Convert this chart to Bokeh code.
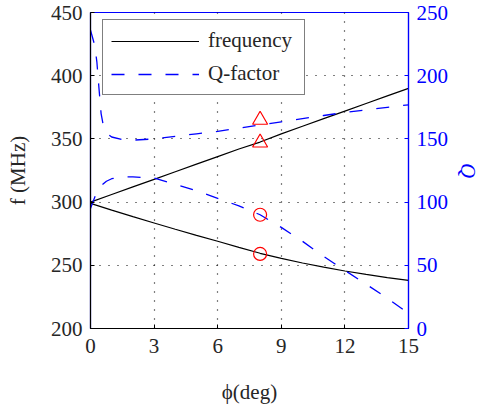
from bokeh.plotting import figure
from bokeh.models import Range1d, LinearAxis, FixedTicker, Legend, LegendItem
from bokeh.embed import file_html
from bokeh.resources import INLINE

# ---- data ----
phi_f = [0, 1, 2, 3, 4, 5, 6, 7, 8, 9, 10, 11, 12, 13, 14, 15]
f_up = [300, 306, 312, 318, 324, 330, 336, 342, 347.5, 354, 360, 366, 372, 378, 384, 390]
f_low = [299, 293.7, 288.5, 283.5, 278.5, 273.7, 269, 264.2, 259.5, 255.5, 251.8, 248.5, 245.5, 242.8, 240.3, 238]

phi_q_up = [0, 0.2, 0.3, 0.4, 0.5, 0.6, 0.8, 1.0, 1.5, 2, 3, 4, 5, 6, 7, 8, 9, 10, 11, 12, 13, 14, 15]
q_up = [236, 224, 211, 190, 170, 161, 154, 151.5, 149.5, 149, 150, 152, 154, 156, 158.5, 161, 163.5, 166, 168.5, 171, 173, 175, 177]

phi_q_low = [0, 0.25, 0.5, 0.75, 1.0, 1.5, 2, 3, 4, 5, 6, 7, 8, 9, 10, 11, 12, 13, 14, 15]
q_low = [95, 106, 113, 116.5, 118.5, 120, 120, 119, 114, 109, 103, 97, 90, 80, 69, 57, 46, 35, 24, 12]

marker_phi = [8]
tri_f = [347]
tri_q = [165]
circ_f = [259]
circ_q = [90]

x_ticks = [0, 3, 6, 9, 12, 15]
f_ticks = [200, 250, 300, 350, 400, 450]
q_ticks = [0, 50, 100, 150, 200, 250]

FONT = "Liberation Serif"
FS = "21px"
BLUE = "#0000ff"
RED = "#ff0000"
TXT = "#262626"

p = figure(width=483, height=406, output_backend="svg", toolbar_location=None,
           x_range=Range1d(0, 15), y_range=Range1d(200, 450),
           min_border_left=90, min_border_right=74, min_border_top=12, min_border_bottom=78,
           title=None)
p.extra_y_ranges = {"q": Range1d(0, 250)}
p.background_fill_color = "white"
p.border_fill_color = "white"
p.outline_line_color = BLUE
p.outline_line_width = 1.2

# axes
p.xaxis.ticker = FixedTicker(ticks=x_ticks)
p.yaxis.ticker = FixedTicker(ticks=f_ticks)
qaxis = LinearAxis(y_range_name="q", ticker=FixedTicker(ticks=q_ticks))
p.add_layout(qaxis, "right")

for ax in [p.xaxis[0], p.yaxis[0]]:
    ax.axis_line_color = "black"
    ax.axis_line_width = 1.2
    ax.major_tick_line_color = "black"
    ax.major_label_text_color = TXT
    ax.axis_label_text_color = TXT
for ax in [p.xaxis[0], p.yaxis[0], qaxis]:
    ax.major_tick_in = 4
    ax.major_tick_out = 0
    ax.minor_tick_line_color = None
    ax.major_label_text_font = FONT
    ax.major_label_text_font_size = FS
    ax.major_label_standoff = 8
    ax.axis_label_text_font = FONT
    ax.axis_label_text_font_size = FS
    ax.axis_label_text_font_style = "normal"
p.xaxis.major_label_standoff = 10
qaxis.axis_line_color = BLUE
qaxis.axis_line_width = 1.2
qaxis.major_tick_line_color = BLUE
qaxis.major_label_text_color = BLUE

p.yaxis.axis_label = "f (MHz)"
p.yaxis.axis_label_standoff = 18
p.xaxis.axis_label = "\u03d5(deg)"
p.xaxis.axis_label_standoff = 24
qaxis.axis_label = "Q"
qaxis.axis_label_text_font_style = "italic"
qaxis.axis_label_text_color = BLUE
qaxis.axis_label_standoff = 5

# grid
p.xgrid.ticker = FixedTicker(ticks=[3, 6, 9, 12])
p.ygrid.ticker = FixedTicker(ticks=[250, 300, 350, 400])
for g in [p.xgrid[0], p.ygrid[0]]:
    g.grid_line_color = "black"
    g.grid_line_dash = "1 8"
    g.grid_line_width = 1.2

# lines
r_f1 = p.line(phi_f, f_up, line_color="black", line_width=1.2)
p.line(phi_f, f_low, line_color="black", line_width=1.2)
r_q1 = p.line(phi_q_up, q_up, y_range_name="q", line_color=BLUE, line_width=1.3, line_dash="13 14")
p.line(phi_q_low, q_low, y_range_name="q", line_color=BLUE, line_width=1.3, line_dash="13 14")

# markers
p.scatter(marker_phi, tri_f, marker="triangle", size=15, fill_color=None, line_color=RED, line_width=1.2)
p.scatter(marker_phi, tri_q, y_range_name="q", marker="triangle", size=15, fill_color=None, line_color=RED, line_width=1.2)
p.scatter(marker_phi, circ_f, marker="circle", size=13, fill_color=None, line_color=RED, line_width=1.2)
p.scatter(marker_phi, circ_q, y_range_name="q", marker="circle", size=13, fill_color=None, line_color=RED, line_width=1.2)

# legend
legend = Legend(items=[LegendItem(label="frequency", renderers=[r_f1]),
                       LegendItem(label="Q-factor", renderers=[r_q1])],
                location=(12, 233), glyph_width=88, glyph_height=20, label_height=20,
                label_width=88, spacing=8, padding=8, label_standoff=9, margin=0,
                label_text_font=FONT, label_text_font_size=FS, label_text_color=TXT,
                border_line_color="black", border_line_width=1.4,
                background_fill_color="white", background_fill_alpha=1.0)
p.add_layout(legend)

open("out.html", "w").write(file_html(p, INLINE))
